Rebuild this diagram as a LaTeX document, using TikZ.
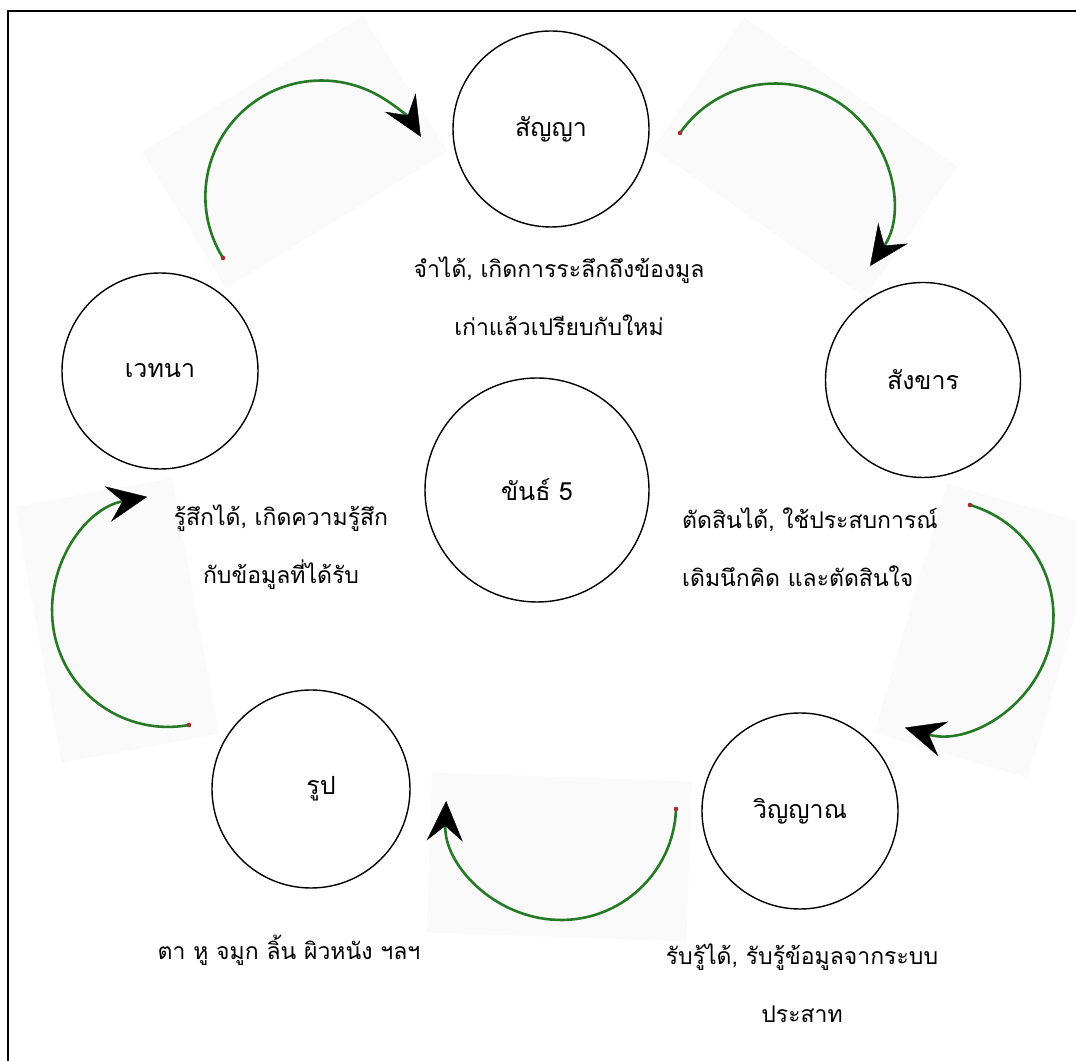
\documentclass[tikz,border=0pt]{standalone}
\usepackage{fontspec}
\newfontfamily\thai[Script=Thai]{Loma}
\usetikzlibrary{arrows.meta}
\definecolor{arcgreen}{RGB}{38,122,38}
\definecolor{dotred}{RGB}{165,45,45}
\definecolor{patch}{RGB}{250,250,250}
\begin{document}
\begin{tikzpicture}[x=1pt,y=1pt,
  bub/.style={circle, draw=black, line width=1.4pt, inner sep=0pt, font=\thai\fontsize{25}{30}\selectfont},
  desc/.style={font=\thai\fontsize{23}{58}\selectfont, inner sep=0pt},
  cyc/.style={draw=arcgreen, line width=2.6pt, -{Stealth[length=40pt,width=36pt,inset=15pt,color=black,line width=0.4pt]}},
  startdot/.style={fill=dotred},
  bgpatch/.style={fill=patch}
]
\useasboundingbox (0,0) rectangle (1076,1060);
\fill[white] (0,0) rectangle (1076,1060);
% frame
\draw[line width=2pt] (8,-20) rectangle (1100,1049);

% faint patches behind arrows
\begin{scope}[shift={(322,864)}, rotate=31.7]
  \fill[bgpatch] (-130,-28) rectangle (130,132);
\end{scope}
\begin{scope}[shift={(775,860)}, rotate=-35]
  \fill[bgpatch] (-130,-28) rectangle (130,132);
\end{scope}
\begin{scope}[shift={(937.5,444)}, rotate=-106.3]
  \fill[bgpatch] (-130,-28) rectangle (130,132);
\end{scope}
\begin{scope}[shift={(561,255)}, rotate=178]
  \fill[bgpatch] (-130,-28) rectangle (130,132);
\end{scope}
\begin{scope}[shift={(168,449)}, rotate=100.4]
  \fill[bgpatch] (-130,-28) rectangle (130,132);
\end{scope}

% circles
\node[bub, minimum size=196pt] (sanya) at (551,931) {สัญญา};
\node[bub, minimum size=195pt] (sangkhan) at (923,680) {สังขาร};
\node[bub, minimum size=196pt] (wethana) at (160,689) {เวทนา};
\node[bub, minimum size=224pt] (khan) at (537,570) {ขันธ์ 5};
\node[bub, minimum size=198pt] (rup) at (311,271) {\hspace*{20pt}รูป};
\node[bub, minimum size=196pt] (winyan) at (800,249) {วิญญาณ};

% descriptions
\node[desc, align=center] (dsanya) at (559,764) {จำได้, เกิดการระลึกถึงข้องมูล\\เก่าแล้วเปรียบกับใหม่};
\node[desc, align=center] (dwethana) at (281,513) {รู้สึกได้, เกิดความรู้สึก\\กับข้อมูลที่ได้รับ};
\node[desc, align=left, anchor=west] (dsangkhan) at (682,513) {ตัดสินได้, ใช้ประสบการณ์\\เดิมนึกคิด และตัดสินใจ};
\node[desc] (drup) at (289,110) {ตา หู จมูก ลิ้น ผิวหนัง ฯลฯ};
\node[desc, align=center] (dwinyan) at (802,77) {รับรู้ได้, รับรู้ข้อมูลจากระบบ\\ประสาท};

% cycle arrows
\coordinate (a1) at (223,802);
\coordinate (a2) at (680,927);
\coordinate (a3) at (970,555);
\coordinate (a4) at (676,251);
\coordinate (a5) at (189,335);
\draw[cyc] (a1) arc[start angle=212, end angle=31, radius=116];
\draw[cyc] (a2) arc[start angle=145, end angle=-35, radius=116];
\draw[cyc] (a3) arc[start angle=73.7, end angle=-106.3, radius=116];
\draw[cyc] (a4) arc[start angle=-2, end angle=-182, radius=115];
\draw[cyc] (a5) arc[start angle=-79.6, end angle=-259.6, radius=116];
\foreach \p in {a1,a2,a3,a4,a5} \fill[startdot] (\p) circle (2.3);
\end{tikzpicture}
\end{document}
